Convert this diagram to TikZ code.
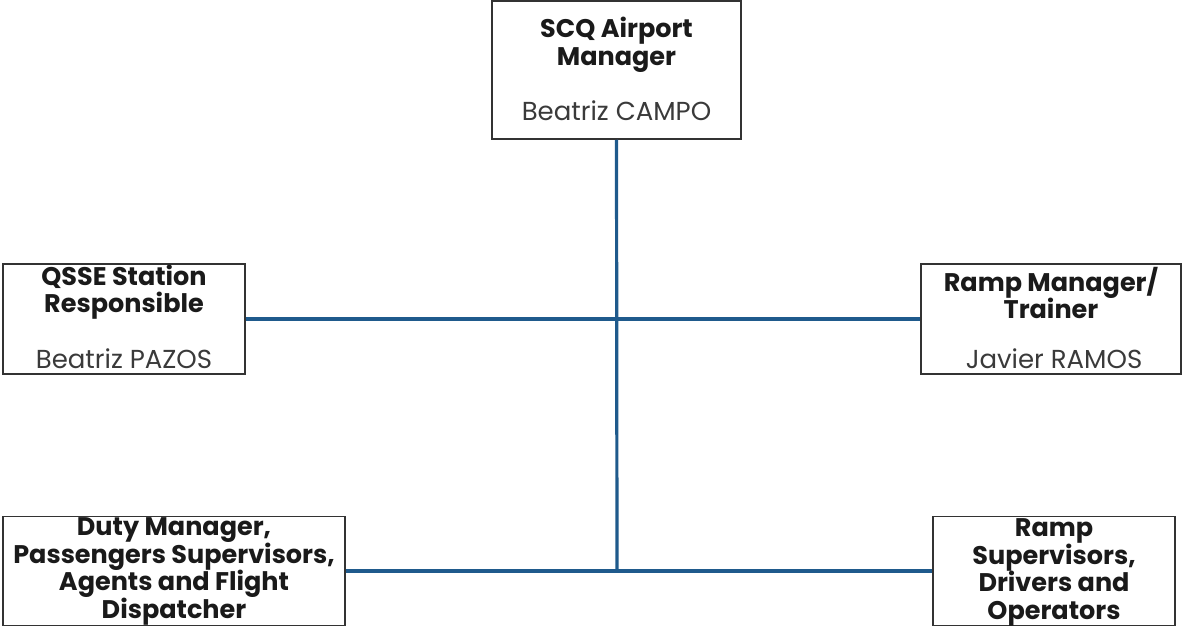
\documentclass[tikz,border=0pt]{standalone}
\usepackage{fontspec}
\setmainfont{Poppins}
\definecolor{linkblue}{HTML}{1F5A8C}
\definecolor{boxgray}{HTML}{333333}
\definecolor{txt}{HTML}{1A1A1A}
\definecolor{namegray}{HTML}{3A3A3A}
\begin{document}
\begin{tikzpicture}[x=1pt,y=-1pt,
  box/.style={draw=boxgray,line width=1.5pt,fill=white,inner sep=0pt},
  title/.style={align=center,font=\fontsize{25.5}{27.5}\selectfont\bfseries,text=txt,inner sep=0pt},
  person/.style={font=\fontsize{26}{28}\selectfont,text=namegray,inner sep=0pt},
  conn/.style={draw=linkblue,line width=3.2pt}]
\useasboundingbox (0,0) rectangle (1183,626);
% boxes
\node[box,minimum width=249pt,minimum height=138pt] (top) at (616.5,70) {};
\node[box,minimum width=242pt,minimum height=110pt] (qsse) at (124,319) {};
\node[box,minimum width=260pt,minimum height=110pt] (ramp) at (1051,319) {};
\node[box,minimum width=342pt,minimum height=109pt] (duty) at (174,571) {};
\node[box,minimum width=242pt,minimum height=109pt] (rs) at (1054,571) {};
% junctions
\coordinate (jlow) at (617,571);
% connectors
\draw[conn] (top.south) -- (jlow);
\draw[conn] (qsse.east) -- (ramp.west);
\draw[conn] (duty.east) -- (rs.west);
% texts
\node[title] (topt) at (616.5,45) {SCQ Airport\\Manager};
\node[person] (topn) at (616.5,111) {Beatriz CAMPO};
\node[title] (qsset) at (124,292) {QSSE Station\\Responsible};
\node[person] (qssen) at (124,359) {Beatriz PAZOS};
\node[title] (rampt) at (1051,293) {Ramp Manager/\\Trainer};
\node[person] (rampn) at (1054,359) {Javier RAMOS};
\node[title] (dutyt) at (174,571.5) {Duty Manager,\\Passengers Supervisors,\\Agents and Flight\\Dispatcher};
\node[title] (rst) at (1054,572.5) {Ramp\\Supervisors,\\Drivers and\\Operators};
\end{tikzpicture}
\end{document}
